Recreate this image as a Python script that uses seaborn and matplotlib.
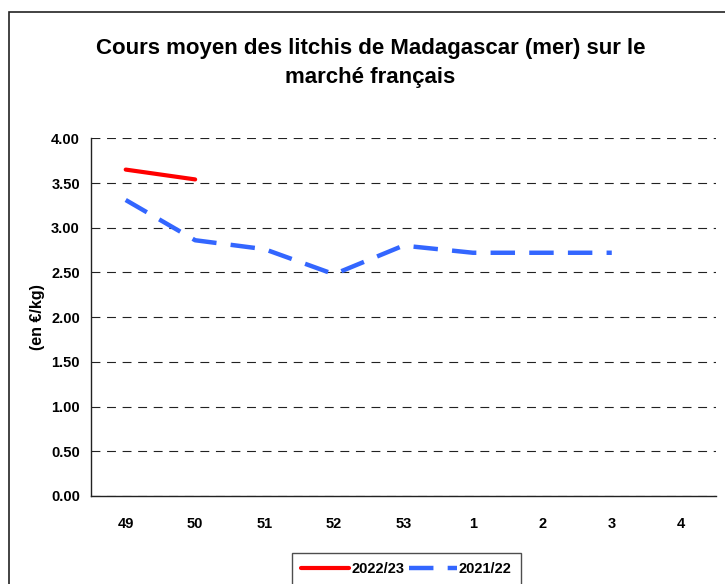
import pandas as pd
import seaborn as sns
import matplotlib.pyplot as plt
from matplotlib.patches import Rectangle

weeks = ['49', '50', '51', '52', '53', '1', '2', '3', '4']
prix_2022_23 = [3.65, 3.54, None, None, None, None, None, None, None]
prix_2021_22 = [3.31, 2.86, 2.76, 2.48, 2.80, 2.72, 2.72, 2.72, None]

df = pd.DataFrame({
    'pos': range(len(weeks)),
    '2022/23': prix_2022_23,
    '2021/22': prix_2021_22,
})

sns.set_style('white')
plt.rcParams['font.family'] = ['Liberation Sans', 'DejaVu Sans']
plt.rcParams['font.weight'] = 'bold'
plt.rcParams['text.color'] = 'black'
plt.rcParams['xtick.color'] = 'black'
plt.rcParams['ytick.color'] = 'black'
plt.rcParams['axes.labelcolor'] = 'black'

fig = plt.figure(figsize=(7.25, 5.84), dpi=100)
ax = fig.add_axes([0.1255, 0.1507, 0.862, 0.6125])

sns.lineplot(data=df, x='pos', y='2022/23', ax=ax, color='#ff0000', lw=3,
             label='2022/23')
sns.lineplot(data=df, x='pos', y='2021/22', ax=ax, color='#3366ff', lw=3.2,
             linestyle=(0, (5.5, 3.2)), label='2021/22')

ax.set_xlim(-0.5, len(weeks) - 0.5)
ax.set_ylim(0, 4)
ax.set_yticks([i * 0.5 for i in range(9)])
ax.set_yticklabels([f'{i * 0.5:.2f}' for i in range(9)], fontsize=10.5, fontweight='bold')
ax.set_xticks(range(len(weeks)))
ax.set_xticklabels(weeks, fontsize=10.5, fontweight='bold')
ax.set_xticks([i - 0.5 for i in range(len(weeks) + 1)], minor=True)
ax.tick_params(axis='x', which='major', length=0, pad=15)
ax.tick_params(axis='x', which='minor', length=5, width=1, color='#333333', direction='out')
ax.tick_params(axis='y', length=4, width=1, color='#333333', direction='out', pad=4)
ax.yaxis.grid(True, color='#222222', lw=0.8, linestyle=(0, (8, 6)))
ax.set_axisbelow(True)

for side in ['top', 'right']:
    ax.spines[side].set_visible(False)
for side in ['left', 'bottom']:
    ax.spines[side].set_color('#222222')
    ax.spines[side].set_linewidth(1)

ax.set_xlabel('')
ax.set_ylabel('(en €/kg)', fontsize=11.5, fontweight='bold', labelpad=4)

fig.text(0.511, 0.892, 'Cours moyen des litchis de Madagascar (mer) sur le\nmarché français',
         ha='center', va='center', fontsize=16, fontweight='bold', linespacing=1.45)

leg = ax.legend(loc='upper center', bbox_to_anchor=(0.5605, 0.053),
                bbox_transform=fig.transFigure, ncol=2, frameon=True,
                fancybox=False, fontsize=10.5, handlelength=3.3, handletextpad=0.15,
                columnspacing=0.3, borderpad=0.6, borderaxespad=0)
leg.get_frame().set_edgecolor('#222222')
leg.get_frame().set_linewidth(1)
for t in leg.get_texts():
    t.set_fontweight('bold')

fig.patches.append(Rectangle((0.0128, -0.1), 1.2, 1.08, transform=fig.transFigure,
                             fill=False, edgecolor='#222222', lw=1.2))

fig.savefig('out.png', dpi=100)
